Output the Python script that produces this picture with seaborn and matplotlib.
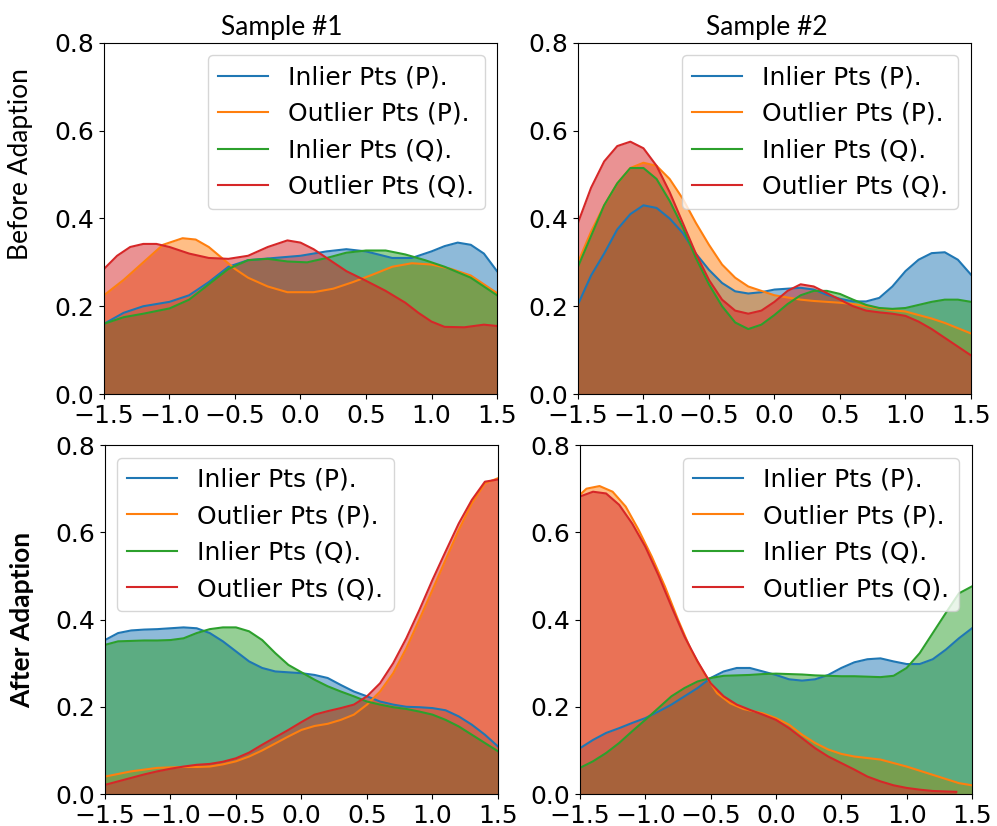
import numpy as np
import seaborn as sns
import matplotlib
matplotlib.use("Agg")
import matplotlib.pyplot as plt

labels = ["Inlier Pts (P).", "Outlier Pts (P).", "Inlier Pts (Q).", "Outlier Pts (Q)."]
col_titles = ["Sample #1", "Sample #2"]
row_titles = ["Before Adaption", "After Adaption"]

# ---- Sample #1, before adaption
tl_x_inP = [-1.5, -1.35, -1.2, -1.0, -0.85, -0.7, -0.55, -0.4, -0.2, 0.0, 0.2, 0.35, 0.5, 0.7, 0.85, 1.0, 1.1, 1.2, 1.3, 1.4, 1.5]
tl_inP = [0.16, 0.185, 0.20, 0.21, 0.225, 0.255, 0.29, 0.305, 0.31, 0.315, 0.325, 0.33, 0.325, 0.31, 0.31, 0.325, 0.337, 0.345, 0.34, 0.32, 0.28]
tl_x_outP = [-1.5, -1.35, -1.2, -1.05, -0.9, -0.8, -0.7, -0.6, -0.5, -0.4, -0.25, -0.1, 0.1, 0.25, 0.4, 0.55, 0.7, 0.85, 1.0, 1.15, 1.3, 1.5]
tl_outP = [0.225, 0.26, 0.30, 0.34, 0.355, 0.352, 0.335, 0.31, 0.285, 0.265, 0.245, 0.232, 0.232, 0.24, 0.255, 0.272, 0.29, 0.298, 0.295, 0.285, 0.27, 0.23]
tl_x_inQ = [-1.5, -1.35, -1.2, -1.0, -0.85, -0.7, -0.55, -0.4, -0.25, -0.1, 0.05, 0.2, 0.35, 0.5, 0.65, 0.8, 0.95, 1.1, 1.3, 1.5]
tl_inQ = [0.16, 0.175, 0.183, 0.195, 0.215, 0.25, 0.285, 0.305, 0.308, 0.302, 0.30, 0.31, 0.322, 0.327, 0.327, 0.318, 0.305, 0.29, 0.265, 0.225]
tl_x_outQ = [-1.5, -1.4, -1.3, -1.2, -1.1, -1.0, -0.85, -0.7, -0.55, -0.4, -0.25, -0.1, 0.0, 0.1, 0.2, 0.35, 0.5, 0.65, 0.8, 0.9, 1.0, 1.1, 1.25, 1.4, 1.5]
tl_outQ = [0.285, 0.315, 0.335, 0.342, 0.342, 0.335, 0.32, 0.31, 0.308, 0.315, 0.335, 0.35, 0.345, 0.33, 0.31, 0.28, 0.258, 0.235, 0.208, 0.185, 0.165, 0.153, 0.152, 0.158, 0.155]

# ---- Sample #2, before adaption
tr_x = [-1.5, -1.4, -1.3, -1.2, -1.1, -1.0, -0.9, -0.8, -0.7, -0.6, -0.5, -0.4, -0.3, -0.2, -0.1, 0.0,
        0.1, 0.2, 0.3, 0.4, 0.5, 0.6, 0.7, 0.8, 0.9, 1.0, 1.1, 1.2, 1.3, 1.4, 1.5]
tr_inP = [0.204, 0.27, 0.32, 0.375, 0.41, 0.43, 0.424, 0.40, 0.367, 0.32, 0.283, 0.253, 0.234, 0.229, 0.232, 0.238,
          0.24, 0.242, 0.238, 0.226, 0.217, 0.211, 0.211, 0.219, 0.245, 0.28, 0.306, 0.321, 0.323, 0.306, 0.272]
tr_outP = [0.30, 0.37, 0.43, 0.48, 0.515, 0.527, 0.52, 0.49, 0.445, 0.39, 0.34, 0.295, 0.265, 0.245, 0.235, 0.225,
           0.22, 0.215, 0.212, 0.21, 0.208, 0.205, 0.2, 0.195, 0.191, 0.188, 0.18, 0.172, 0.162, 0.15, 0.138]
tr_inQ = [0.29, 0.36, 0.43, 0.48, 0.515, 0.515, 0.49, 0.44, 0.38, 0.31, 0.25, 0.20, 0.163, 0.148, 0.158, 0.18,
          0.205, 0.225, 0.235, 0.235, 0.228, 0.215, 0.203, 0.196, 0.194, 0.196, 0.203, 0.21, 0.215, 0.215, 0.21]
tr_outQ = [0.39, 0.47, 0.53, 0.565, 0.575, 0.56, 0.52, 0.46, 0.39, 0.32, 0.26, 0.215, 0.19, 0.183, 0.19, 0.21,
           0.235, 0.25, 0.245, 0.23, 0.215, 0.20, 0.19, 0.186, 0.183, 0.178, 0.165, 0.148, 0.128, 0.108, 0.088]

# ---- Sample #1, after adaption
bl_x = [-1.5, -1.4, -1.3, -1.2, -1.1, -1.0, -0.9, -0.8, -0.7, -0.6, -0.5, -0.4, -0.3, -0.2, -0.1, 0.0,
        0.1, 0.2, 0.3, 0.4, 0.5, 0.6, 0.7, 0.8, 0.9, 1.0, 1.1, 1.2, 1.3, 1.4, 1.5]
bl_inP = [0.353, 0.369, 0.375, 0.377, 0.378, 0.38, 0.382, 0.38, 0.369, 0.35, 0.327, 0.304, 0.289, 0.281, 0.279, 0.277,
          0.273, 0.266, 0.25, 0.235, 0.224, 0.212, 0.205, 0.20, 0.199, 0.197, 0.192, 0.178, 0.159, 0.136, 0.109]
bl_outP = [0.04, 0.046, 0.052, 0.056, 0.06, 0.061, 0.062, 0.062, 0.063, 0.068, 0.075, 0.086, 0.10, 0.116, 0.132, 0.147,
           0.156, 0.161, 0.17, 0.182, 0.205, 0.235, 0.277, 0.334, 0.40, 0.468, 0.537, 0.605, 0.666, 0.712, 0.724]
bl_inQ = [0.342, 0.35, 0.351, 0.352, 0.352, 0.353, 0.357, 0.369, 0.378, 0.382, 0.382, 0.373, 0.353, 0.323, 0.296, 0.279,
          0.262, 0.247, 0.235, 0.224, 0.212, 0.205, 0.199, 0.195, 0.189, 0.182, 0.17, 0.155, 0.136, 0.117, 0.098]
bl_outQ = [0.021, 0.029, 0.037, 0.045, 0.052, 0.058, 0.063, 0.067, 0.069, 0.074, 0.082, 0.095, 0.113, 0.13, 0.147, 0.165,
           0.182, 0.19, 0.197, 0.205, 0.224, 0.254, 0.30, 0.357, 0.422, 0.491, 0.556, 0.62, 0.674, 0.716, 0.721]

# ---- Sample #2, after adaption
br_x = [-1.5, -1.4, -1.3, -1.2, -1.1, -1.0, -0.9, -0.8, -0.7, -0.6, -0.5, -0.4, -0.3, -0.2, -0.1, 0.0,
        0.1, 0.2, 0.3, 0.4, 0.5, 0.6, 0.7, 0.8, 0.9, 1.0, 1.1, 1.2, 1.3, 1.4, 1.5]
br_inP = [0.105, 0.124, 0.14, 0.151, 0.163, 0.174, 0.189, 0.205, 0.224, 0.243, 0.266, 0.281, 0.289, 0.289, 0.281, 0.273,
          0.263, 0.26, 0.263, 0.273, 0.289, 0.302, 0.309, 0.311, 0.304, 0.298, 0.298, 0.309, 0.331, 0.357, 0.38]
br_inQ = [0.06, 0.075, 0.094, 0.117, 0.144, 0.17, 0.197, 0.224, 0.243, 0.258, 0.266, 0.271, 0.272, 0.273, 0.275, 0.276,
          0.275, 0.274, 0.272, 0.271, 0.27, 0.27, 0.269, 0.268, 0.271, 0.289, 0.323, 0.369, 0.415, 0.46, 0.476]
br_x_outP = [-1.5, -1.45, -1.35, -1.25, -1.15, -1.05, -0.95, -0.85, -0.75, -0.65, -0.55, -0.45, -0.35, -0.25, -0.1, 0.0,
             0.1, 0.2, 0.3, 0.4, 0.5, 0.6, 0.8, 1.0, 1.2, 1.4, 1.5]
br_outP = [0.686, 0.70, 0.706, 0.693, 0.659, 0.605, 0.544, 0.476, 0.40, 0.33, 0.277, 0.231, 0.208, 0.195, 0.185, 0.174,
           0.159, 0.136, 0.117, 0.102, 0.092, 0.086, 0.079, 0.063, 0.044, 0.025, 0.02]
br_x_outQ = [-1.5, -1.4, -1.3, -1.2, -1.1, -1.0, -0.9, -0.8, -0.7, -0.6, -0.5, -0.4, -0.3, -0.2, -0.1, 0.0,
             0.1, 0.2, 0.3, 0.4, 0.5, 0.6, 0.7, 0.8, 0.9, 1.0, 1.1, 1.2, 1.38]
br_outQ = [0.682, 0.693, 0.689, 0.663, 0.62, 0.567, 0.502, 0.43, 0.361, 0.304, 0.254, 0.224, 0.205, 0.193, 0.182, 0.17,
           0.151, 0.128, 0.105, 0.086, 0.071, 0.056, 0.04, 0.029, 0.02, 0.014, 0.01, 0.007, 0.005]

colors = sns.color_palette("tab10", 4)

panels = [
    ([(tl_x_inP, tl_inP), (tl_x_outP, tl_outP), (tl_x_inQ, tl_inQ), (tl_x_outQ, tl_outQ)],
     [0.1043, 0.523, 0.3942, 0.425], "upper right"),
    ([(tr_x, tr_inP), (tr_x, tr_outP), (tr_x, tr_inQ), (tr_x, tr_outQ)],
     [0.5797, 0.523, 0.3942, 0.425], "upper right"),
    ([(bl_x, bl_inP), (bl_x, bl_outP), (bl_x, bl_inQ), (bl_x, bl_outQ)],
     [0.1053, 0.0387, 0.3942, 0.4225], "upper left"),
    ([(br_x, br_inP), (br_x_outP, br_outP), (br_x, br_inQ), (br_x_outQ, br_outQ)],
     [0.5817, 0.0387, 0.3932, 0.4225], "upper right"),
]
title_x = [0.453, 0.481]

fig = plt.figure(figsize=(9.97, 8.26), dpi=100)

for i, (curves, pos, legend_loc) in enumerate(panels):
    ax = fig.add_axes(pos)
    for (x, y), color, lab in zip(curves, colors, labels):
        ax.fill_between(x, y, 0, color=color, alpha=0.5, linewidth=0)
        sns.lineplot(x=x, y=y, ax=ax, color=color, linewidth=1.5, label=lab)
    ax.set_xlim(-1.5, 1.5)
    ax.set_ylim(0, 0.8)
    ax.set_xticks([-1.5, -1.0, -0.5, 0.0, 0.5, 1.0, 1.5])
    ax.set_yticks([0.0, 0.2, 0.4, 0.6, 0.8])
    ax.tick_params(labelsize=18)
    ax.set_xlabel("")
    ax.set_ylabel("")
    ax.legend(loc=legend_loc, fontsize=18)
    if i < 2:
        ax.set_title(col_titles[i], fontsize=19, family="Lato", x=title_x[i])
    if i == 0:
        ax.set_ylabel(row_titles[0], fontsize=19, family="Lato")
        ax.yaxis.set_label_coords(-0.18, 0.655)
    if i == 2:
        ax.set_ylabel(row_titles[1], fontsize=19, family="Lato", fontweight="bold")
        ax.yaxis.set_label_coords(-0.18, 0.5)

fig.savefig("out.png", dpi=100)
